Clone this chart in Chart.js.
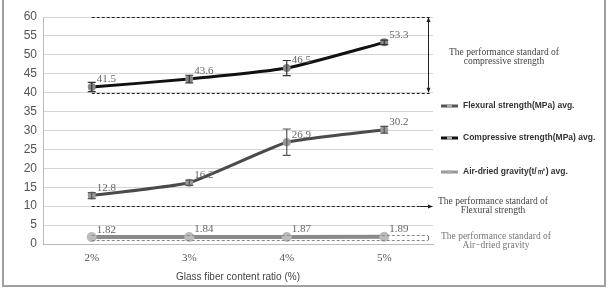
<!DOCTYPE html>
<html><head><meta charset="utf-8">
<script src="https://cdn.jsdelivr.net/npm/chart.js@4"></script>
<style>
html,body{margin:0;padding:0;background:#fff;}
#wrap{position:relative;width:608px;height:290px;}
#frame{position:absolute;left:2px;top:-2px;width:600px;height:287px;border:2px solid #a0a0a0;border-top:none;pointer-events:none;}
</style></head>
<body>
<div id="wrap"><canvas id="c" width="608" height="290"></canvas><div id="frame"></div></div>
<script>
const categories = ['2%', '3%', '4%', '5%'];
const flexural = [12.8, 16.2, 26.9, 30.2];
const flexuralErr = [0.8, 0.7, 3.5, 0.9];
const compressive = [41.5, 43.6, 46.5, 53.3];
const compressiveErr = [1.2, 1.0, 2.0, 0.6];
const airDried = [1.82, 1.84, 1.87, 1.89];
const yTicks = [0, 5, 10, 15, 20, 25, 30, 35, 40, 45, 50, 55, 60];
const compStd = [40, 60];
const flexStd = 10;
const airStd = [1.0, 2.4];

const serif = '"Liberation Serif", "DejaVu Serif", serif';
const sans = '"Liberation Sans", Arial, sans-serif';

const overlay = {
  id: 'overlay',
  afterDatasetsDraw(chart) {
    const ctx = chart.ctx;
    const x = chart.scales.x, y = chart.scales.y;
    ctx.save();
    const drawErr = (vals, errs, color) => {
      ctx.strokeStyle = color; ctx.lineWidth = 1.2;
      vals.forEach((v, i) => {
        const px = x.getPixelForValue(i);
        const y1 = y.getPixelForValue(v + errs[i]);
        const y2 = y.getPixelForValue(v - errs[i]);
        ctx.beginPath();
        ctx.moveTo(px, y1); ctx.lineTo(px, y2);
        ctx.moveTo(px - 4, y1); ctx.lineTo(px + 4, y1);
        ctx.moveTo(px - 4, y2); ctx.lineTo(px + 4, y2);
        ctx.stroke();
      });
    };
    drawErr(compressive, compressiveErr, '#333');
    drawErr(flexural, flexuralErr, '#555');

    ctx.fillStyle = '#666';
    ctx.font = '11px ' + serif;
    ctx.textAlign = 'left'; ctx.textBaseline = 'bottom';
    const lab = (vals, fmt) => vals.forEach((v, i) => {
      ctx.fillText(fmt(v), x.getPixelForValue(i) + 5, y.getPixelForValue(v) - 2);
    });
    lab(compressive, v => v.toFixed(1));
    lab(flexural, v => v.toFixed(1));
    lab(airDried, v => v.toFixed(2));

    const xs = x.getPixelForValue(0);
    const xe = chart.chartArea.right - 3;
    ctx.setLineDash([3, 2]);
    ctx.strokeStyle = '#222'; ctx.lineWidth = 1;
    compStd.forEach(v => {
      const py = Math.round(y.getPixelForValue(v)) + 0.5;
      ctx.beginPath(); ctx.moveTo(xs, py); ctx.lineTo(xe, py); ctx.stroke();
    });
    let py = Math.round(y.getPixelForValue(flexStd)) + 0.5;
    ctx.beginPath(); ctx.moveTo(xs, py); ctx.lineTo(xe - 8, py); ctx.stroke();
    ctx.strokeStyle = '#888';
    airStd.forEach(v => {
      const p = Math.round(y.getPixelForValue(v)) + 0.5;
      ctx.beginPath(); ctx.moveTo(xs, p); ctx.lineTo(xe - 2, p); ctx.stroke();
    });
    ctx.setLineDash([]);
    ctx.strokeStyle = '#222';
    ctx.beginPath(); ctx.moveTo(xe - 10, py); ctx.lineTo(xe + 2, py); ctx.stroke();
    ctx.fillStyle = '#222';
    ctx.beginPath(); ctx.moveTo(xe + 3, py); ctx.lineTo(xe - 2, py - 2); ctx.lineTo(xe - 2, py + 2); ctx.fill();
    const ax = xe - 1.5;
    const t = y.getPixelForValue(compStd[1]), b = y.getPixelForValue(compStd[0]);
    ctx.beginPath(); ctx.moveTo(ax, t + 1); ctx.lineTo(ax, b - 1); ctx.stroke();
    ctx.beginPath(); ctx.moveTo(ax, t); ctx.lineTo(ax - 2, t + 5); ctx.lineTo(ax + 2, t + 5); ctx.fill();
    ctx.beginPath(); ctx.moveTo(ax, b); ctx.lineTo(ax - 2, b - 5); ctx.lineTo(ax + 2, b - 5); ctx.fill();
    ctx.strokeStyle = '#777'; ctx.fillStyle = '#777';
    const at = y.getPixelForValue(airStd[1]), ab = y.getPixelForValue(airStd[0]);
    ctx.beginPath(); ctx.moveTo(ax, at + 1); ctx.lineTo(ax, ab); ctx.stroke();

    ctx.textAlign = 'center'; ctx.textBaseline = 'middle';
    ctx.font = '9.5px ' + serif;
    ctx.fillStyle = '#444';
    ctx.fillText('The performance standard of', 504, 52);
    ctx.fillText('compressive strength', 504, 61);
    ctx.fillText('The performance standard of', 493, 201);
    ctx.fillText('Flexural strength', 493, 210);
    ctx.fillStyle = '#777';
    ctx.fillText('The performance standard of', 496, 236);
    ctx.fillText('Air\u2212dried gravity', 496, 245);

    const leg = [
      ['Flexural strength(MPa) avg.', '#555', 106],
      ['Compressive strength(MPa) avg.', '#111', 138],
      ['Air-dried gravity(t/\u33a5) avg.', '#999', 172]
    ];
    ctx.textAlign = 'left';
    ctx.font = 'bold 8.5px ' + sans;
    leg.forEach(([txt, col, ly]) => {
      ctx.strokeStyle = col; ctx.lineWidth = 3;
      ctx.beginPath(); ctx.moveTo(441, ly); ctx.lineTo(458, ly); ctx.stroke();
      ctx.fillStyle = '#aaa';
      ctx.fillRect(447, ly - 1.5, 5, 3);
      ctx.fillStyle = '#333';
      ctx.fillText(txt, 463, ly);
    });
    ctx.restore();
  }
};

new Chart(document.getElementById('c'), {
  type: 'line',
  data: {
    labels: categories,
    datasets: [
      { label: 'Compressive', data: compressive, borderColor: '#111', borderWidth: 3,
        pointRadius: 2.5, pointBackgroundColor: '#888', pointBorderColor: '#888', tension: 0.18 },
      { label: 'Flexural', data: flexural, borderColor: '#4a4a4a', borderWidth: 3,
        pointRadius: 2.5, pointBackgroundColor: '#999', pointBorderColor: '#999', tension: 0.12 },
      { label: 'Air-dried', data: airDried, borderColor: '#8a8a8a', borderWidth: 4,
        pointRadius: 3, pointBackgroundColor: '#bbb', pointBorderColor: '#bbb', tension: 0 }
    ]
  },
  options: {
    responsive: false, animation: false,
    layout: { padding: { top: 17, right: 175, left: 0, bottom: 0 } },
    plugins: { legend: { display: false }, tooltip: { enabled: false } },
    scales: {
      y: {
        min: 0, max: 60,
        afterBuildTicks: s => { s.ticks = yTicks.map(v => ({ value: v })); },
        afterFit: s => { s.width = 43; },
        grid: { color: '#d4d4d4', drawTicks: false, lineWidth: 1 },
        border: { color: '#bbb' },
        ticks: { color: '#555', padding: 6, font: { family: sans, size: 12 } }
      },
      x: {
        offset: true,
        afterFit: s => { s.height = 46; },
        grid: { display: false, drawTicks: false },
        border: { color: '#bbb' },
        ticks: { color: '#555', padding: 8, font: { family: serif, size: 11 } },
        title: { display: true, text: 'Glass fiber content ratio (%)', color: '#444', padding: { top: 3, bottom: 7 },
                 font: { family: sans, size: 10 } }
      }
    }
  },
  plugins: [overlay]
});
</script>
</body></html>
